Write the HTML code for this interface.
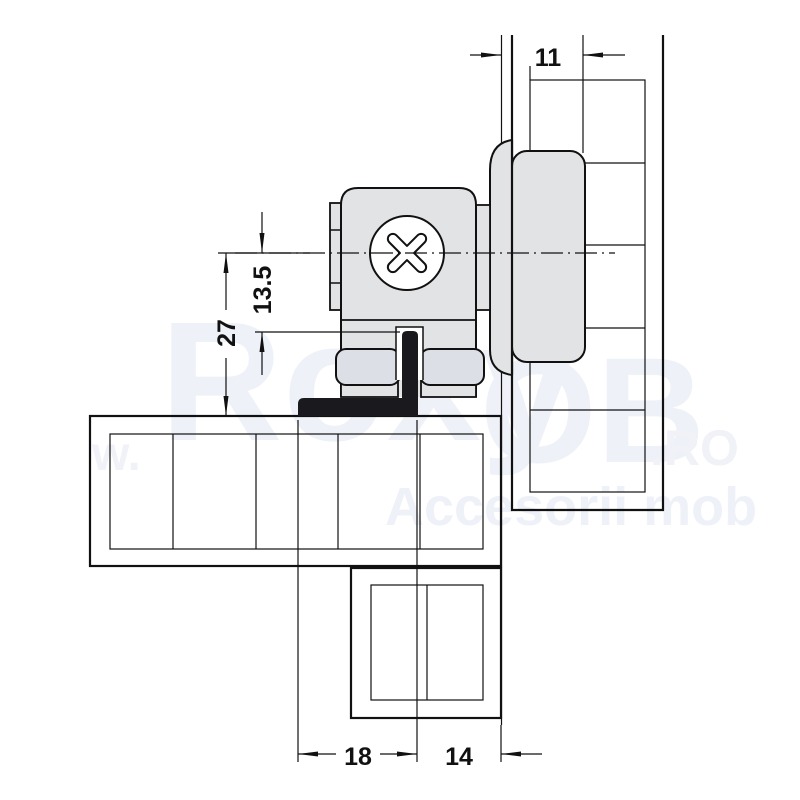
<!DOCTYPE html>
<html><head><meta charset="utf-8"><style>
html,body{margin:0;padding:0;background:#fff;}
svg{display:block;}
text{font-family:"Liberation Sans",Arial,sans-serif;font-weight:bold;fill:#111;}
</style></head><body>
<svg width="800" height="800" viewBox="0 0 800 800" xmlns="http://www.w3.org/2000/svg">
<defs>
<marker id="ar" markerWidth="20" markerHeight="8" refX="20" refY="4" orient="auto" markerUnits="userSpaceOnUse">
<path d="M0,1.5 L20,4 L0,6.5 Z" fill="#111"/></marker>
</defs>
<rect width="800" height="800" fill="#fff"/>

<!-- watermark -->
<g>
<text x="160" y="440" font-size="170" style="fill:#eef1f8">Roxy</text>
<text x="480" y="462" font-size="150" style="fill:#eef1f8">OB</text>
<text x="650" y="465" font-size="50" style="fill:#f0f2f8">.RO</text>
<text x="385" y="525" font-size="54" style="fill:#eef1f8">Accesorii mob</text>
<text x="92" y="470" font-size="48" style="fill:#f0f2f8">w.</text>
</g>

<g stroke="#111" fill="none">
<!-- right panel -->
<line x1="501.5" y1="35" x2="501.5" y2="725" stroke-width="1.2"/>
<path d="M512,35 V510 H663 V35" stroke-width="2.2"/>
<rect x="530" y="80" width="115" height="412" stroke-width="1.2"/>
<line x1="530" y1="163" x2="645" y2="163" stroke-width="1.2"/>
<line x1="530" y1="245" x2="645" y2="245" stroke-width="1.2"/>
<line x1="530" y1="328" x2="645" y2="328" stroke-width="1.2"/>
<line x1="530" y1="410" x2="645" y2="410" stroke-width="1.2"/>
<line x1="583" y1="35" x2="583" y2="153" stroke-width="1.2"/>
<line x1="530" y1="66" x2="530" y2="80" stroke-width="1.2"/>

<!-- bottom panel -->
<rect x="90" y="416" width="411" height="150" stroke-width="2.2"/>
<rect x="110" y="434" width="373" height="115" stroke-width="1.2"/>
<line x1="173" y1="434" x2="173" y2="549" stroke-width="1.2"/>
<line x1="256" y1="434" x2="256" y2="549" stroke-width="1.2"/>
<line x1="338" y1="434" x2="338" y2="549" stroke-width="1.2"/>
<line x1="420" y1="434" x2="420" y2="549" stroke-width="1.2"/>
<rect x="351" y="568" width="150" height="150" stroke-width="2.2"/>
<rect x="371" y="585" width="112" height="115" stroke-width="1.2"/>
<line x1="427" y1="585" x2="427" y2="700" stroke-width="1.2"/>

<!-- knob -->
<path d="M512,140 Q490,143 490,170 V350 Q490,372 512,375 Z" fill="#e2e3e5" stroke-width="2"/>
<rect x="512" y="151" width="73" height="211" rx="15" fill="#e2e3e5" stroke-width="2"/>
<line x1="512" y1="140" x2="512" y2="375" stroke-width="2.2"/>

<!-- connector body -->
<rect x="476" y="205" width="14" height="105" fill="#e2e3e5" stroke-width="1.8"/>
<rect x="330" y="203" width="11" height="107" fill="#e2e3e5" stroke-width="1.8"/>
<line x1="330" y1="230" x2="341" y2="230" stroke-width="1.5"/>
<line x1="330" y1="283" x2="341" y2="283" stroke-width="1.5"/>
<path d="M341,397 V205 Q341,188 358,188 H459 Q476,188 476,205 V397" fill="#e2e3e5" stroke-width="2"/>
<line x1="341" y1="320" x2="476" y2="320" stroke-width="1.8"/>
<rect x="341" y="380" width="57" height="17" fill="#e2e3e5" stroke-width="1.8"/>
<rect x="421" y="380" width="55" height="17" fill="#e2e3e5" stroke-width="1.8"/>
<rect x="336" y="349" width="64" height="36" rx="10" fill="#dcdfe6" stroke-width="2"/>
<rect x="420" y="349" width="64" height="36" rx="10" fill="#dcdfe6" stroke-width="2"/>
<path d="M396,380 V327 H423 V380" fill="#fff" stroke-width="1.5"/>
<circle cx="407" cy="253" r="37" fill="#fff" stroke-width="2"/>
<path transform="translate(407,253) rotate(45)" d="M-5,-20 A5,5 0 0 1 5,-20 V-5 H20 A5,5 0 0 1 20,5 H5 V20 A5,5 0 0 1 -5,20 V5 H-20 A5,5 0 0 1 -20,-5 H-5 Z" fill="#fff" stroke-width="2" stroke-linejoin="round"/>
</g>
<!-- black L -->
<path d="M402,336 Q402,331 407,331 H413 Q418,331 418,336 V416 H298 V404 Q298,398 304,398 H402 Z" fill="#1a1a1e"/>

<g stroke="#111" fill="none" stroke-width="1.2">
<line x1="235" y1="253" x2="615" y2="253" stroke-dasharray="22,5,2,5"/>
<line x1="218" y1="253" x2="310" y2="253"/>
<line x1="255" y1="332" x2="400" y2="332"/>
<line x1="262" y1="212" x2="262" y2="253" marker-end="url(#ar)"/>
<line x1="262" y1="375" x2="262" y2="332" marker-end="url(#ar)"/>
<line x1="226" y1="310" x2="226" y2="253" marker-end="url(#ar)"/>
<line x1="226" y1="358" x2="226" y2="416" marker-end="url(#ar)"/>
<line x1="298" y1="420" x2="298" y2="762"/>
<line x1="417" y1="420" x2="417" y2="762"/>
<line x1="501" y1="725" x2="501" y2="762"/>
<line x1="336" y1="754" x2="298" y2="754" marker-end="url(#ar)"/>
<line x1="380" y1="754" x2="417" y2="754" marker-end="url(#ar)"/>
<line x1="542" y1="754" x2="501" y2="754" marker-end="url(#ar)"/>
<line x1="470" y1="55" x2="501" y2="55" marker-end="url(#ar)"/>
<line x1="625" y1="55" x2="583" y2="55" marker-end="url(#ar)"/>
</g>

<text x="358" y="765" font-size="25" text-anchor="middle">18</text>
<text x="459" y="765" font-size="25" text-anchor="middle">14</text>
<text x="548" y="66" font-size="25" text-anchor="middle">11</text>
<text transform="translate(271,290) rotate(-90)" font-size="25" text-anchor="middle">13.5</text>
<text transform="translate(235,333) rotate(-90)" font-size="25" text-anchor="middle">27</text>
</svg>
</body></html>
